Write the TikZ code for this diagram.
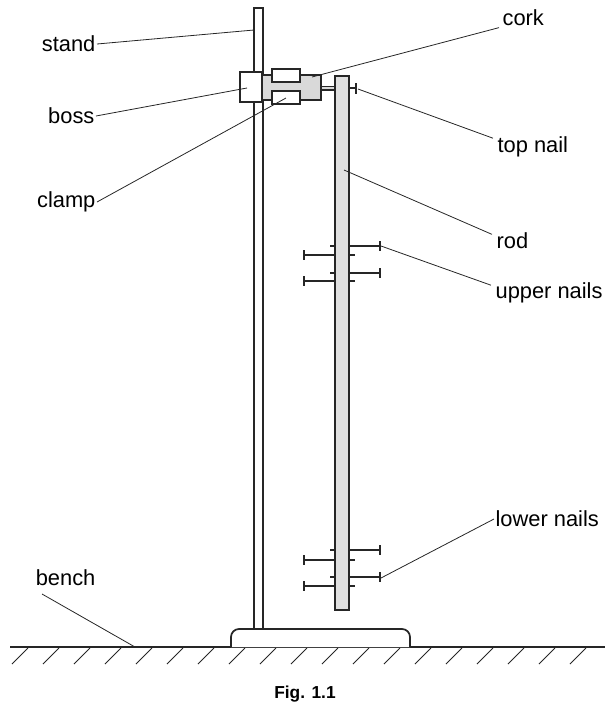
\documentclass[tikz,border=0pt]{standalone}
\usepackage{fontspec}
\setmainfont{Liberation Sans}
\begin{document}
\begin{tikzpicture}[x=0.75pt,y=-0.75pt,
  part/.style={draw=black!85,line width=1.3pt},
  lead/.style={draw=black!85,line width=0.6pt},
  lbl/.style={font=\fontsize{16.4}{19}\selectfont,inner sep=1pt},
  nail/.style={draw=black!85,line width=1.6pt}]
\useasboundingbox (0,0) rectangle (608,708);
% bench
\draw[part] (10,647) -- (605,647);
\foreach \x in {28,59,90,121,152,183,214,245,276,307,338,369,400,431,462,493,524,555,586}
  \draw[lead,line width=0.7pt] (\x,648) -- (\x-16,664);
% base
\draw[part,fill=white,rounded corners=6pt] (231,647) -- (231,629) -- (410,629) -- (410,647);
% stand
\draw[part,fill=white] (254,8) rectangle (263,629);
% rod connector
\draw[part,fill=black!15,line width=0.9pt] (321,86.5) rectangle (336,90);
% clamp
\draw[part,fill=black!15] (261,75) rectangle (321,100);
\draw[part,fill=white] (272,69) rectangle (300,82);
\draw[part,fill=white] (272,91) rectangle (300,104);
% boss
\draw[part,fill=white] (240,72) rectangle (262,102);
% rod
\draw[part,fill=black!12] (335,76) rectangle (349,610);
% top nail
\draw[nail,line width=1.2pt] (349,88) -- (356,88);
\draw[nail] (356,83) -- (356,94);
% nails
\foreach \y in {246,273,550,577} {
  \draw[nail] (349,\y) -- (380,\y);
  \draw[nail] (380,\y-5) -- (380,\y+5);
  \draw[nail,line width=0.8pt] (335,\y) -- (330,\y);
}
\foreach \y in {255,281,560,586} {
  \draw[nail] (304,\y) -- (335,\y);
  \draw[nail] (304,\y-5) -- (304,\y+5);
  \draw[nail,line width=0.8pt] (349,\y) -- (355,\y);
}
% labels
\node[lbl,anchor=east] (stand) at (97,44) {stand};
\node[lbl,anchor=east] (boss) at (96,116) {boss};
\node[lbl,anchor=east] (clamp) at (97,202) {clamp};
\node[lbl,anchor=east] (bench) at (97,578) {bench};
\node[lbl,anchor=west] (cork) at (501,18) {cork};
\node[lbl,anchor=west] (topnail) at (496,147) {top nail};
\node[lbl,anchor=west] (rod) at (495,241) {rod};
\node[lbl,anchor=west] (upper) at (494,293) {upper nails};
\node[lbl,anchor=west] (lower) at (494,519) {lower nails};
\node[font=\bfseries\fontsize{13}{16}\selectfont] (fig) at (305,694) {Fig. 1.1};
\coordinate (cStand) at (254,30);
\coordinate (cBoss) at (247,88);
\coordinate (cClamp) at (286,98);
\coordinate (cCork) at (312,77);
\coordinate (cTop) at (358,89);
\coordinate (cRod) at (344,170);
\coordinate (cUp) at (381,246);
\coordinate (cLow) at (381,578);
\coordinate (cBench) at (135,647);
\draw[lead] (stand.east) -- (cStand);
\draw[lead] (boss.east) -- (cBoss);
\draw[lead] (clamp.east) -- (cClamp);
\draw[lead] (42,594) -- (cBench);
\draw[lead] (cork.south west) ++(-2,0) -- (cCork);
\draw[lead] (topnail.north west) ++(-3,3) -- (cTop);
\draw[lead] (rod.north west) ++(-3,3) -- (cRod);
\draw[lead] (upper.north west) ++(-3,4) -- (cUp);
\draw[lead] (lower.west) -- (cLow);
\end{tikzpicture}
\end{document}
